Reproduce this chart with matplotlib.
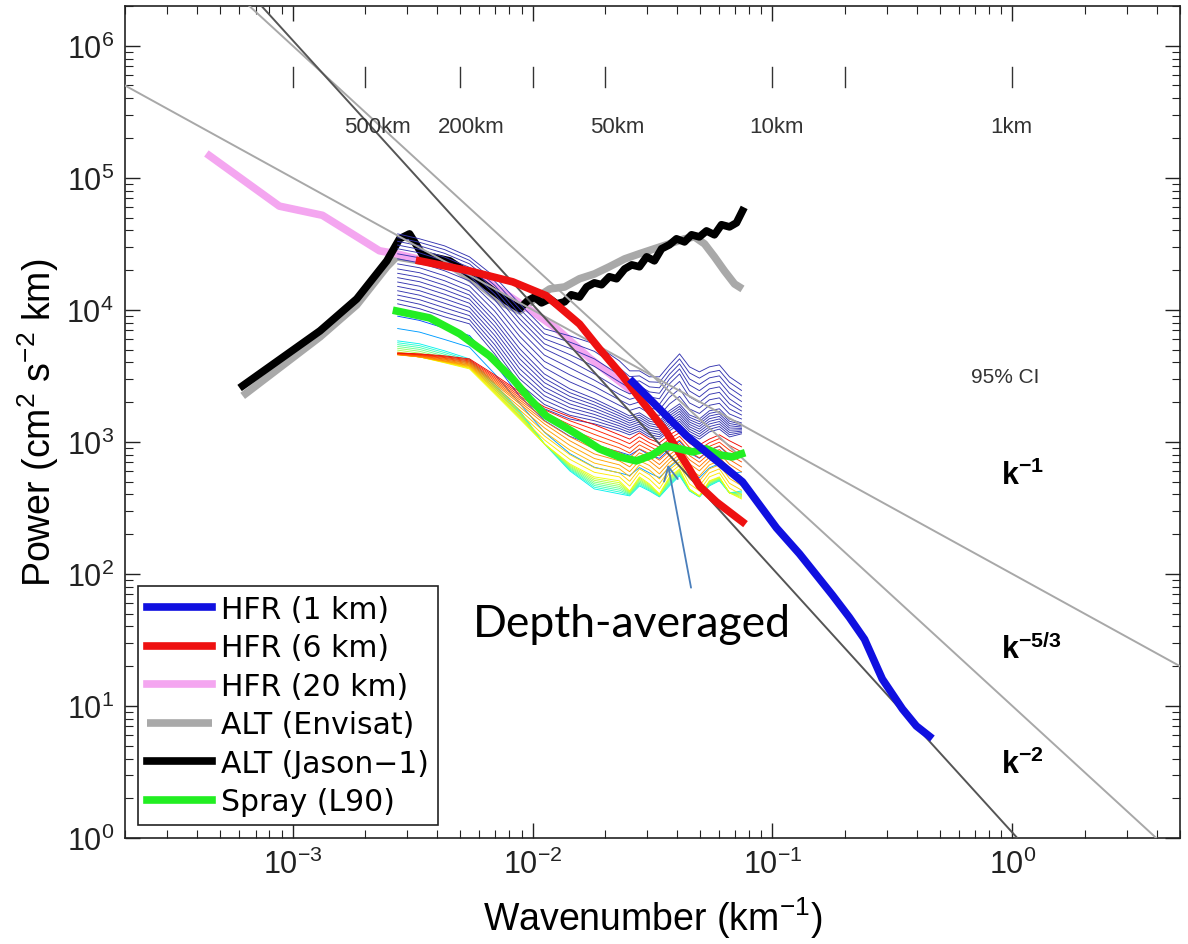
import numpy as np
import matplotlib
matplotlib.use("Agg")
import matplotlib.pyplot as plt
import matplotlib.transforms as mtransforms

plt.rcParams['font.family'] = ['Liberation Sans', 'DejaVu Sans']
plt.rcParams['mathtext.fontset'] = 'custom'
plt.rcParams['mathtext.rm'] = 'Liberation Sans'
plt.rcParams['mathtext.it'] = 'Liberation Sans:italic'
plt.rcParams['mathtext.bf'] = 'Liberation Sans:bold'

# ---------------- data ----------------
hfr1_k = [0.0261, 0.0338, 0.0438, 0.0573, 0.075, 0.104, 0.1296, 0.178, 0.209, 0.242, 0.287, 0.348, 0.398, 0.451]
hfr1_P = [2850, 1778, 1110, 743, 498, 223, 142, 69, 47, 32, 16, 9.5, 7.05, 5.9]

hfr6_k = [3.38e-3, 5.46e-3, 8.26e-3, 1.14e-2, 1.57e-2, 1.90e-2, 2.37e-2, 2.87e-2, 3.61e-2, 4.5e-2, 4.96e-2, 5.84e-2, 7.5e-2]
hfr6_P = [2.35e4, 1.97e4, 1.63e4, 1.28e4, 7.8e3, 5.07e3, 3.16e3, 2.01e3, 1.19e3, 624, 464, 351, 248]

hfr20_k = [4.5e-4, 8.8e-4, 1.33e-3, 2.3e-3, 2.7e-3, 3.4e-3, 5.6e-3, 1.0e-2, 1.26e-2, 1.73e-2, 2.54e-2]
hfr20_P = [1.47e5, 6.1e4, 5.2e4, 2.8e4, 2.66e4, 2.4e4, 1.94e4, 9.7e3, 7.2e3, 4.3e3, 2.5e3]

envisat_k = [6.19e-4, 1.30e-3, 1.85e-3, 2.47e-3, 2.71e-3, 3.38e-3, 4.51e-3, 6.01e-3, 7.63e-3, 8.84e-3,
             1.02e-2, 1.18e-2, 1.36e-2, 1.57e-2, 1.81e-2, 2.09e-2, 2.42e-2, 2.79e-2, 3.22e-2, 3.72e-2,
             4.30e-2, 4.73e-2, 5.21e-2, 5.73e-2, 6.31e-2, 6.95e-2, 7.50e-2]
envisat_P = [2230, 6240, 10900, 21200, 25200, 23500, 21900, 15500, 11100, 9820,
             12100, 14400, 14900, 17200, 18700, 21200, 24300, 26600, 29000, 31600,
             34500, 35700, 31600, 25200, 19700, 15700, 14400]

jason_k = [6.19e-4, 1.30e-3, 1.85e-3, 2.47e-3, 2.79e-3, 3.07e-3, 3.48e-3, 4.51e-3, 6.01e-3, 7.79e-3,
           8.84e-3, 9.53e-3, 1.02e-2, 1.09e-2, 1.18e-2, 1.26e-2, 1.36e-2, 1.45e-2, 1.57e-2, 1.68e-2,
           1.81e-2, 1.94e-2, 2.09e-2, 2.24e-2, 2.42e-2, 2.59e-2, 2.79e-2, 2.99e-2, 3.22e-2, 3.45e-2,
           3.72e-2, 3.98e-2, 4.30e-2, 4.60e-2, 4.96e-2, 5.31e-2, 5.73e-2, 6.13e-2, 6.62e-2, 7.08e-2, 7.50e-2]
jason_P = [2660, 6930, 12100, 23500, 34500, 37600, 26100, 23500, 16600, 11700,
           10200, 11700, 12500, 11300, 12100, 11100, 11500, 13000, 12500, 14900,
           16000, 15500, 17800, 17200, 20400, 21900, 21200, 25200, 23500, 29000,
           31100, 34500, 32700, 37000, 35700, 39600, 37000, 44100, 42500, 45600, 56200]

spray_k = [2.71e-3, 3.72e-3, 4.97e-3, 6.62e-3, 8.26e-3, 9.72e-3, 1.14e-2, 1.36e-2, 1.57e-2, 1.90e-2,
           2.30e-2, 2.71e-2, 3.16e-2, 3.61e-2, 4.10e-2, 4.64e-2, 5.31e-2, 6.01e-2, 6.81e-2, 7.43e-2]
spray_P = [9800, 8690, 6580, 4480, 3000, 2120, 1570, 1300, 1110, 885,
           770, 718, 797, 933, 885, 840, 885, 797, 770, 811]

# depth-dependent Spray spectra (envelope curves)
depth_k = [2.74e-3, 3.38e-3, 4.30e-3, 5.46e-3, 6.95e-3, 8.84e-3, 1.12e-2, 1.43e-2, 1.81e-2, 2.30e-2, 2.54e-2,
           2.79e-2, 3.07e-2, 3.38e-2, 3.72e-2, 4.10e-2, 4.51e-2, 4.96e-2, 5.46e-2, 6.01e-2, 6.62e-2, 7.43e-2]
depth_navy0 = [37600, 34500, 30500, 25200, 17800, 11100, 7180, 6350, 5530, 4110, 3450, 3450, 3110, 3110, 3830, 4640, 3700, 3390, 3700, 3830, 3110, 2700]
depth_navy1 = [29000, 27000, 23500, 19700, 13200, 7830, 5070, 4110, 3270, 2520, 2310, 2430, 2190, 2120, 2750, 3270, 2430, 2190, 2520, 2610, 2120, 1840]
depth_navy2 = [20400, 19100, 16600, 13900, 8850, 5070, 3270, 2520, 2120, 1720, 1570, 1660, 1490, 1440, 1720, 1940, 1600, 1490, 1720, 1780, 1490, 1390]
depth_navy3 = [11100, 10200, 8850, 7830, 4640, 2520, 1780, 1490, 1370, 1210, 1130, 1210, 1090, 1050, 1210, 1370, 1150, 1050, 1190, 1250, 1090, 1150]
depth_cyan = [5820, 5530, 4890, 4250, 2750, 1720, 966, 603, 440, 404, 390, 464, 425, 383, 464, 553, 425, 383, 464, 507, 411, 425]
depth_yellow = [4640, 4400, 3970, 3570, 2310, 1490, 966, 681, 543, 507, 425, 543, 481, 404, 543, 624, 440, 390, 507, 543, 411, 370]
depth_orange = [4560, 4400, 4110, 3830, 2750, 1940, 1370, 1020, 811, 718, 647, 770, 718, 624, 743, 855, 681, 603, 718, 770, 624, 543]
depth_red = [4720, 4640, 4480, 4250, 3220, 2390, 1840, 1550, 1350, 1130, 1050, 1170, 1050, 983, 1130, 1250, 1050, 949, 1050, 1130, 1020, 917]

# reference power laws: P = C * k^slope
law_slopes = [-1.0, -5.0 / 3.0, -2.0]
law_consts = [100.0, 10.0, 1.1]
law_labels = [r'$\mathbf{k^{-1}}$', r'$\mathbf{k^{-5/3}}$', r'$\mathbf{k^{-2}}$']
law_label_k = [0.9, 0.9, 0.9]
law_label_P = [560, 27, 3.6]

# wavelength scale on top
scale_tick_k = [1e-3, 2e-3, 5e-3, 1e-2, 2e-2, 1e-1, 2e-1, 1.0]
scale_labels = ['500km', '200km', '50km', '10km', '1km']
scale_label_km = [500, 200, 50, 10, 1]

# ---------------- figure ----------------
fig = plt.figure(figsize=(11.88, 9.45), dpi=100)
ax = fig.add_axes([125 / 1188, 106 / 945, 1055 / 1188, 832 / 945])
ax.set_xscale('log')
ax.set_yscale('log')
ax.set_xlim(2e-4, 5)
ax.set_ylim(1, 2e6)

kk = np.logspace(np.log10(2e-4), np.log10(5), 200)
law_colors = ['#a8a8a8', '#a8a8a8', '#555555']
for s, c, col in zip(law_slopes, law_consts, law_colors):
    ax.plot(kk, c * kk ** s, color=col, lw=1.4, zorder=2.6)
for lab, lk, lp in zip(law_labels, law_label_k, law_label_P):
    ax.text(lk, lp, lab, fontsize=22, ha='left', va='center', color='black')

# altimetry
l_env, = ax.plot(envisat_k, envisat_P, color='#a9a9a9', lw=5.5, solid_capstyle='butt', zorder=2.0,
                 label='ALT (Envisat)')
l_pink, = ax.plot(hfr20_k, hfr20_P, color='#f4a6f0', lw=5.5, zorder=2.1, label='HFR (20 km)')
l_jas, = ax.plot(jason_k, jason_P, color='black', lw=5.5, zorder=2.2, label='ALT (Jason\u22121)')

# depth bundle
jet = plt.get_cmap('jet')
keys = [depth_navy0, depth_navy1, depth_navy2, depth_navy3, depth_cyan, depth_yellow, depth_orange, depth_red]
counts = [4, 4, 8, 3, 7, 5, 6]
cvals = [0.07, 0.08, 0.10, 0.12, 0.36, 0.64, 0.76, 0.90]
dk = np.array(depth_k)
for i in range(len(counts)):
    a = np.log10(np.array(keys[i]))
    b = np.log10(np.array(keys[i + 1]))
    n = counts[i]
    for j in range(n):
        t = j / n
        cv = cvals[i] + t * (cvals[i + 1] - cvals[i])
        col = jet(cv)
        if cv < 0.125:
            col = '#3535b0'
        ax.plot(dk, 10 ** ((1 - t) * a + t * b), color=col, lw=0.65, zorder=2.5)
ax.plot(dk, depth_red, color=jet(cvals[-1]), lw=0.65, zorder=2.5)

l_red, = ax.plot(hfr6_k, hfr6_P, color='#ee1111', lw=5.5, zorder=3.0, label='HFR (6 km)')
l_spray, = ax.plot(spray_k, spray_P, color='#22ee22', lw=5.5, zorder=3.5, label='Spray (L90)')
l_blue, = ax.plot(hfr1_k, hfr1_P, color='#1010e0', lw=5.5, zorder=4.0, label='HFR (1 km)')

# top wavelength scale
trans = mtransforms.blended_transform_factory(ax.transData, ax.transAxes)
for tk in scale_tick_k:
    ax.plot([tk, tk], [0.9026, 0.9267], color='#333333', lw=1.0, transform=trans)
offs = [9, 8, 9, 3, -1]
for lab, km, o in zip(scale_labels, scale_label_km, offs):
    ax.annotate(lab, xy=(1.0 / km, 0.8546), xycoords=trans, xytext=(o, 0), textcoords='offset points',
                ha='center', va='center', fontsize=16, color='#333333')

ax.text(0.935, 3110, '95% CI', fontsize=15, ha='center', va='center', color='#333333')

# annotation
ax.annotate('', xy=(3.65e-2, 705), xytext=(4.6e-2, 75),
            arrowprops=dict(arrowstyle='->', color='#4a7ebb', lw=1.3, mutation_scale=25))
ax.text(2.59e-2, 41.8, 'Depth-averaged', fontsize=32, ha='center', va='center',
        family=['Lato', 'DejaVu Sans'], color='black')

# axes styling
for sp in ax.spines.values():
    sp.set_linewidth(1.2)
    sp.set_color('#222222')
ax.tick_params(which='both', direction='in', top=True, right=True, colors='#222222')
ax.tick_params(which='major', length=11, width=1.0, labelsize=22, pad=8)
ax.tick_params(which='minor', length=6, width=0.8)
ax.set_xticks([1e-3, 1e-2, 1e-1, 1e0])
ax.set_yticks([1e0, 1e1, 1e2, 1e3, 1e4, 1e5, 1e6])
ax.set_xlabel(r'Wavenumber (km$^{-1}$)', fontsize=27, labelpad=10)
ax.set_ylabel(r'Power (cm$^{2}$ s$^{-2}$ km)', fontsize=27, labelpad=4)

handles = [l_blue, l_red, l_pink, l_env, l_jas, l_spray]
leg = ax.legend(handles=handles, loc='lower left', prop={'family': 'DejaVu Sans', 'size': 21.5},
                frameon=True, fancybox=False,
                edgecolor='#222222', framealpha=1, handlelength=2.2, handletextpad=0.3,
                labelspacing=0.32, borderpad=0.3, borderaxespad=0.42)
leg.get_frame().set_linewidth(1.2)
leg.set_zorder(10)

fig.savefig('out.png', dpi=100)
